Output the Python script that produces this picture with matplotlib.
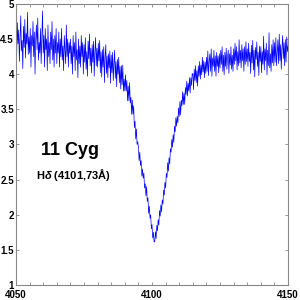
import numpy as np
import matplotlib
matplotlib.use("Agg")
import matplotlib.pyplot as plt

# Spectrum around H-delta, sampled every 0.25 A from 4050 to 4150 A
wl_start = 4050.0
wl_end = 4150.0
flux = [
    4.58, 4.28, 4.73, 4.43, 4.63, 4.18, 4.53, 4.83, 4.33, 4.48, 4.08, 4.68, 4.38, 4.78, 4.23, 4.58, 4.43, 4.88, 4.28, 4.53,
    4.30, 4.65, 4.10, 4.55, 4.40, 4.75, 4.25, 4.60, 4.00, 4.50, 4.70, 4.35, 4.80, 4.20, 4.45, 4.30, 4.65, 4.15, 4.55, 4.90,
    4.30, 4.55, 4.10, 4.65, 4.35, 4.50, 4.05, 4.70, 4.25, 4.45, 4.15, 4.60, 4.35, 4.75, 4.20, 4.50, 4.10, 4.55, 4.30, 4.65,
    4.15, 4.45, 4.30, 4.60, 4.10, 4.50, 4.25, 4.65, 4.20, 4.40, 4.05, 4.55, 4.35, 4.15, 4.70, 4.25, 4.50, 4.10, 4.45, 4.30,
    4.50, 4.15, 4.40, 4.00, 4.55, 4.25, 4.45, 4.05, 4.60, 4.20, 4.35, 3.95, 4.50, 4.15, 4.40, 4.10, 4.55, 4.25, 4.45, 4.00,
    4.42, 4.17, 4.52, 4.07, 4.32, 3.97, 4.47, 4.22, 4.57, 4.12, 4.37, 4.02, 4.42, 4.17, 4.47, 3.97, 4.32, 4.52, 4.12, 4.37,
    4.10, 4.44, 4.19, 4.48, 4.02, 4.32, 3.96, 4.35, 4.10, 4.39, 3.88, 4.23, 4.42, 4.01, 4.26, 3.95, 4.29, 4.09, 4.33, 3.87,
    4.27, 4.02, 4.31, 3.91, 4.15, 4.34, 3.94, 4.18, 3.82, 4.21, 4.00, 4.24, 3.88, 4.11, 3.79, 4.12, 3.85, 4.13, 3.76, 3.93,
    3.76, 3.99, 3.76, 3.91, 3.62, 3.83, 3.62, 3.88, 3.59, 3.67, 3.43, 3.63, 3.43, 3.55, 3.24, 3.33, 3.08, 3.22, 3.00, 3.04,
    2.96, 2.77, 2.89, 2.70, 2.77, 2.55, 2.65, 2.52, 2.59, 2.38, 2.44, 2.27, 2.40, 2.19, 2.24, 2.02, 2.12, 1.95, 2.00, 1.80,
    1.86, 1.67, 1.75, 1.61, 1.62, 1.76, 1.66, 1.85, 1.77, 1.93, 1.85, 2.06, 1.98, 2.14, 2.04, 2.21, 2.15, 2.35, 2.28, 2.46,
    2.38, 2.59, 2.53, 2.74, 2.62, 2.81, 2.72, 2.94, 2.89, 3.07, 2.96, 3.14, 3.03, 3.26, 3.18, 3.38, 3.26, 3.40, 3.31, 3.52,
    3.40, 3.61, 3.42, 3.63, 3.55, 3.75, 3.57, 3.73, 3.57, 3.81, 3.71, 3.90, 3.69, 3.87, 3.76, 3.95, 3.73, 3.95, 3.84, 4.01,
    4.00, 3.78, 4.07, 3.91, 4.12, 3.88, 4.05, 3.83, 4.12, 3.97, 4.18, 3.93, 4.13, 3.99, 4.24, 4.03, 4.19, 3.95, 4.17, 4.01,
    4.24, 4.04, 4.33, 3.98, 4.18, 4.29, 4.04, 4.36, 3.97, 4.23, 4.11, 4.34, 4.04, 4.26, 3.97, 4.31, 4.11, 4.26, 4.02, 4.29,
    4.09, 4.34, 4.14, 4.39, 4.04, 4.27, 3.99, 4.31, 4.11, 4.37, 4.07, 4.24, 4.34, 4.01, 4.29, 4.13, 4.39, 4.07, 4.27, 4.04,
    4.36, 4.14, 4.44, 4.19, 4.39, 4.06, 4.32, 4.12, 4.49, 4.16, 4.34, 4.09, 4.42, 4.19, 4.36, 4.04, 4.39, 4.14, 4.46, 4.18,
    4.36, 4.11, 4.44, 4.18, 4.31, 4.01, 4.41, 4.16, 4.48, 4.06, 4.34, 3.96, 4.38, 4.21, 4.46, 4.11, 4.31, 3.98, 4.40, 4.18,
    4.39, 4.02, 4.32, 4.14, 4.54, 4.06, 4.36, 4.19, 4.44, 3.99, 4.34, 4.12, 4.59, 4.09, 4.29, 4.04, 4.42, 4.16, 4.49, 4.12,
    4.45, 4.17, 4.52, 4.12, 4.32, 4.49, 4.15, 4.57, 4.19, 4.42, 4.07, 4.37, 4.55, 4.22, 4.45, 4.12, 4.49, 4.17, 4.53, 4.32,
    4.40,
]
wavelength = np.linspace(wl_start, wl_end, len(flux))

x_ticks = [4050, 4100, 4150]
x_minor = list(range(4050, 4151, 5))
y_ticks = [1, 1.5, 2, 2.5, 3, 3.5, 4, 4.5, 5]
y_labels = ["1", "1.5", "2", "2.5", "3", "3.5", "4", "4.5", "5"]

title = "11 Cyg"
subtitle = r"H$\delta$ (4101,73Å)"

plt.rcParams['font.family'] = ['Liberation Sans', 'DejaVu Sans']
plt.rcParams['mathtext.fontset'] = 'custom'
plt.rcParams['mathtext.it'] = 'Liberation Sans:italic:bold'
plt.rcParams['mathtext.rm'] = 'Liberation Sans:bold'

fig = plt.figure(figsize=(3, 3), dpi=100)
ax = fig.add_axes([0.0533, 0.05, 0.907, 0.937])

ax.plot(wavelength, flux, color=(0, 0, 1), lw=0.5)

ax.set_xlim(4050, 4150)
ax.set_ylim(1, 5)
ax.set_xticks(x_ticks)
ax.set_xticklabels([str(t) for t in x_ticks], fontweight='bold', fontsize=7)
ax.set_xticks(x_minor, minor=True)
ax.set_yticks(y_ticks)
ax.set_yticklabels(y_labels, fontweight='bold', fontsize=7)
ax.tick_params(axis='both', which='both', direction='in', top=True, right=True,
               length=2.5, width=0.6, color='#888888')
ax.tick_params(axis='x', which='major', pad=3.5)
ax.tick_params(axis='y', which='major', pad=1.5)
for s in ax.spines.values():
    s.set_color('#888888')
    s.set_linewidth(0.8)

ax.text(4069.8, 2.92, title, ha='center', va='center', fontsize=13, fontweight='bold')
ax.text(4071.3, 2.56, subtitle, ha='center', va='center', fontsize=8, fontweight='bold')

fig.savefig("out.png", dpi=100)
